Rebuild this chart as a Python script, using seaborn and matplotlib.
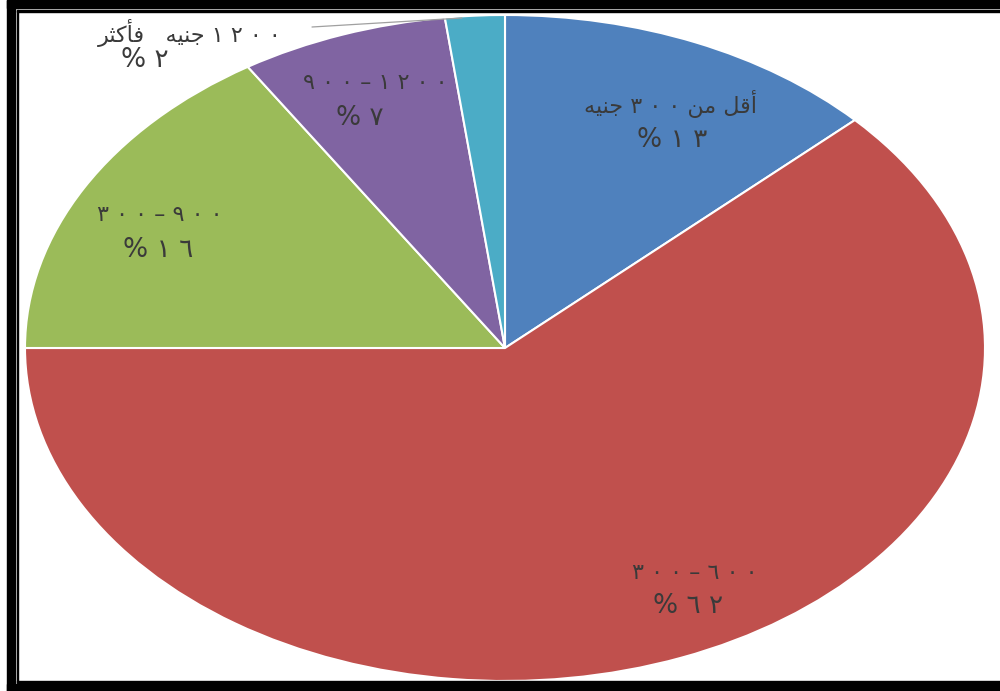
import matplotlib
matplotlib.use("Agg")
import matplotlib.pyplot as plt
import seaborn as sns
from matplotlib.patches import Rectangle

sns.set_theme(style="white")
plt.rcParams['font.family'] = ['DejaVu Sans']

# data (shares in %), clockwise from 12 o'clock
shares = [13, 62, 16, 7, 2]
colors = ["#4F81BD", "#C0504D", "#9BBB59", "#8064A2", "#4BACC6"]

# labels written in visual (left-to-right) order with presentation forms
cat_labels = [
    "\uFEEA\uFEF4\uFEE8\uFE9F \u0663 \u0660 \u0660 \uFEE6\uFEE3 \uFEDE\uFED7\uFE83",   # أقل من ٣٠٠ جنيه
    "\u0663 \u0660 \u0660 \u2013 \u0666 \u0660 \u0660",                                # ٣٠٠-٦٠٠
    "\u0663 \u0660 \u0660 \u2013 \u0669 \u0660 \u0660",                                # ٣٠٠-٩٠٠
    "\u0669 \u0660 \u0660 \u2013 \u0661 \u0662 \u0660 \u0660",                         # ٩٠٠-١٢٠٠
    "\uFEAE\uFE9C\uFEDB\uFE84\uFED3   \uFEEA\uFEF4\uFEE8\uFE9F \u0661 \u0662 \u0660 \u0660",  # ١٢٠٠ جنيه فأكثر
]
pct_labels = ["% \u0661 \u0663", "% \u0666 \u0662", "% \u0661 \u0666", "% \u0667", "% \u0662"]

# pixel layout of the reference
W, H = 1000, 691
cx, cy, rx, ry = 505, 348, 480, 333
label_px = [(670, 104), (695, 573), (160, 215), (375, 83), (190, 33)]
pct_px = [(672, 140), (688, 606), (158, 250), (360, 118), (145, 60)]

fig = plt.figure(figsize=(W / 100, H / 100), dpi=100)
ax = fig.add_axes([(cx - rx) / W, (H - cy - ry) / H, 2 * rx / W, 2 * ry / H])

ax.pie(shares, colors=colors, startangle=90, counterclock=False, radius=1,
       wedgeprops=dict(edgecolor="white", linewidth=1.5))
ax.set_aspect("auto")
ax.set_xlim(-1, 1)
ax.set_ylim(-1, 1)
ax.axis("off")


def to_data(px, py):
    return (px - cx) / rx, (cy - py) / ry


for lab, pct, lp, pp in zip(cat_labels, pct_labels, label_px, pct_px):
    x, y = to_data(*lp)
    ax.text(x, y, lab, ha="center", va="center", fontsize=16, color="#3a3a3a")
    x, y = to_data(*pp)
    ax.text(x, y, pct, ha="center", va="center", fontsize=19, color="#3a3a3a")

# leader line for the small slice
x0, y0 = to_data(312, 27)
x1, y1 = to_data(462, 18)
ax.plot([x0, x1], [y0, y1], color="#a0a0a0", lw=0.9, clip_on=False)

# double black frame
def px_rect(x, y, w, h, **kw):
    fig.patches.append(Rectangle((x / W, 1 - (y + h) / H), w / W, h / H,
                                 transform=fig.transFigure, **kw))

px_rect(7, 0, 8, H, color="black")
px_rect(7, 0, W, 8, color="black")
px_rect(7, 684, W, 7, color="black")
px_rect(16.5, 10, 1.8, 672, color="black")
px_rect(16.5, 10, W, 1.6, color="black")
px_rect(16.5, 681, W, 1.6, color="black")

fig.savefig("out.png", dpi=100)
